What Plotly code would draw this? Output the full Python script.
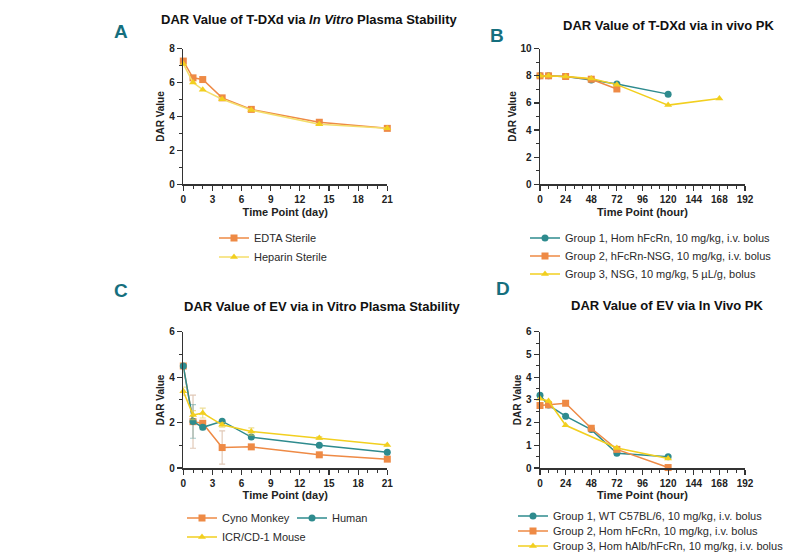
import plotly.graph_objects as go

# ---------------- data ----------------
# Panel A: T-DXd in vitro plasma stability
a_days = [0, 1, 2, 4, 7, 14, 21]
a_edta = [7.27, 6.28, 6.18, 5.10, 4.42, 3.66, 3.30]
a_heparin = [7.10, 6.00, 5.58, 5.02, 4.38, 3.55, 3.30]

# Panel B: T-DXd in vivo PK
b_g1_hours = [0, 8, 24, 48, 72, 120]
b_g1 = [8.0, 8.0, 7.95, 7.70, 7.40, 6.65]
b_g2_hours = [0, 8, 24, 48, 72]
b_g2 = [8.0, 8.0, 7.95, 7.75, 7.03]
b_g3_hours = [0, 8, 24, 48, 72, 120, 168]
b_g3 = [8.0, 8.0, 7.95, 7.80, 7.35, 5.84, 6.32]

# Panel C: EV in vitro plasma stability
c_days = [0, 1, 2, 4, 7, 14, 21]
c_cyno = [4.49, 2.04, 1.97, 0.90, 0.93, 0.58, 0.39]
c_cyno_err = [0.05, 1.17, 0.08, 0.73, 0.08, 0.05, 0.04]
c_human = [4.49, 2.05, 1.79, 2.06, 1.36, 1.00, 0.69]
c_human_err = [0.05, 0.74, 0.10, 0.05, 0.06, 0.04, 0.04]
c_mouse = [3.38, 2.33, 2.42, 1.90, 1.61, 1.32, 1.01]
c_mouse_err = [0.18, 0.20, 0.22, 0.10, 0.16, 0.06, 0.04]

# Panel D: EV in vivo PK
d_g1_hours = [0, 8, 24, 48, 72, 120]
d_g1 = [3.20, 2.77, 2.28, 1.69, 0.65, 0.50]
d_g2_hours = [0, 8, 24, 48, 72, 120]
d_g2 = [2.75, 2.78, 2.85, 1.75, 0.82, 0.02]
d_g3_hours = [0, 8, 24, 72, 120]
d_g3 = [3.05, 2.95, 1.88, 0.88, 0.42]

# ---------------- styles ----------------
ORANGE = "#EE8A45"
TEAL = "#2E8B8E"
YELLOW = "#F2CF1F"
LABEL_TEAL = "#156F7E"
AXIS = "#333333"
FONT = "Liberation Sans, Arial, sans-serif"

W, H = 798, 553

fig = go.Figure()

def px_x(v):
    return v / W

def px_y(v):
    return 1 - v / H

legend_count = [0]
legend_layouts = {}

ERR_COL = {ORANGE: "rgba(205,165,135,0.6)", TEAL: "rgba(60,140,140,0.45)",
           YELLOW: "rgba(225,200,80,0.6)"}

def add_series(x, y, name, color, symbol, size, xa, ya, leg_xy, err=None,
               line_color=None):
    legend_count[0] += 1
    n = legend_count[0]
    key = "legend" if n == 1 else f"legend{n}"
    tr = go.Scatter(
        x=x, y=y, name=name, mode="lines+markers",
        xaxis=xa, yaxis=ya, cliponaxis=False,
        line=dict(color=line_color or color, width=1.5),
        marker=dict(symbol=symbol, size=size, color=color,
                    line=dict(width=0)),
        legend=key, showlegend=True,
    )
    if err is not None:
        tr.error_y = dict(type="data", array=err, visible=True,
                          color=ERR_COL[color], thickness=1.2, width=3)
    fig.add_trace(tr)
    lx, ly = leg_xy
    legend_layouts[key] = dict(
        x=px_x(lx), y=px_y(ly), xanchor="left", yanchor="middle",
        bgcolor="rgba(0,0,0,0)", borderwidth=0,
        font=dict(family=FONT, size=11, color="#2a2a2a"),
        itemwidth=30, tracegroupgap=0,
    )

# legend positions: (left edge px, center y px). Text starts ~40 px after left edge.
TXT_OFF = 40
# Panel A
add_series(a_days, a_edta, "EDTA Sterile", ORANGE, "square", 7, "x", "y",
           (254 - TXT_OFF, 238))
add_series(a_days, a_heparin, "Heparin Sterile", YELLOW, "triangle-up", 7, "x", "y",
           (254 - TXT_OFF, 257), line_color="#F4DE6A")
# Panel B
add_series(b_g1_hours, b_g1, "Group 1, Hom hFcRn, 10 mg/kg, i.v. bolus", TEAL,
           "circle", 7, "x2", "y2", (565 - TXT_OFF, 238))
add_series(b_g2_hours, b_g2, "Group 2, hFcRn-NSG, 10 mg/kg, i.v. bolus", ORANGE,
           "square", 7, "x2", "y2", (565 - TXT_OFF, 256))
add_series(b_g3_hours, b_g3, "Group 3, NSG, 10 mg/kg, 5 µL/g, bolus", YELLOW,
           "triangle-up", 7, "x2", "y2", (565 - TXT_OFF, 274))
# Panel C
add_series(c_days, c_cyno, "Cyno Monkey", ORANGE, "square", 7, "x3", "y3",
           (222 - TXT_OFF, 518), err=c_cyno_err)
add_series(c_days, c_human, "Human", TEAL, "circle", 7, "x3", "y3",
           (332 - TXT_OFF, 518), err=c_human_err)
add_series(c_days, c_mouse, "ICR/CD-1 Mouse", YELLOW, "triangle-up", 7, "x3", "y3",
           (222 - TXT_OFF, 537), err=c_mouse_err)
# Panel D
add_series(d_g1_hours, d_g1, "Group 1, WT C57BL/6, 10 mg/kg, i.v. bolus", TEAL,
           "circle", 7, "x4", "y4", (553 - TXT_OFF, 516))
add_series(d_g2_hours, d_g2, "Group 2, Hom hFcRn, 10 mg/kg, i.v. bolus", ORANGE,
           "square", 7, "x4", "y4", (553 - TXT_OFF, 531))
add_series(d_g3_hours, d_g3, "Group 3, Hom hAlb/hFcRn, 10 mg/kg, i.v. bolus", YELLOW,
           "triangle-up", 7, "x4", "y4", (553 - TXT_OFF, 546))

tick_font = dict(family=FONT, size=10, color="#222222", weight="bold")
title_font = dict(family=FONT, size=11, color="#222222", weight="bold")

def axis_common():
    return dict(showgrid=False, zeroline=False, showline=True,
                linecolor=AXIS, linewidth=1.5, ticks="outside",
                ticklen=5, tickwidth=1.2, tickcolor=AXIS,
                tickfont=tick_font, title_font=title_font,
                fixedrange=True, automargin=False)

def xaxis(dom, rng, dtick, minor, title, anchor):
    d = axis_common()
    d.update(domain=[px_x(dom[0]), px_x(dom[1])], range=rng, dtick=dtick,
             tick0=0, anchor=anchor,
             minor=dict(dtick=minor, tick0=0, ticks="outside", ticklen=3,
                        tickwidth=1, tickcolor=AXIS),
             title=dict(text=title, standoff=4))
    return d

def yaxis(dom, rng, dtick, minor, anchor):
    d = axis_common()
    d.update(domain=[px_y(dom[1]), px_y(dom[0])], range=rng, dtick=dtick,
             tick0=0, anchor=anchor,
             minor=dict(dtick=minor, tick0=0, ticks="outside", ticklen=3,
                        tickwidth=1, tickcolor=AXIS),
             title=dict(text="DAR Value", standoff=2,
                        font=dict(family=FONT, size=10, color="#222222",
                                  weight="bold")))
    return d

AX_L, AX_R = 183.3, 387.3
BX_L, BX_R = 540, 745
TOP_Y0, TOP_Y1 = 48.7, 184.3
BOT_Y0, BOT_Y1 = 331.7, 468.0

fig.update_layout(
    width=W, height=H,
    margin=dict(l=0, r=0, t=0, b=0, autoexpand=False),
    paper_bgcolor="white", plot_bgcolor="white",
    font=dict(family=FONT),
    xaxis=xaxis((AX_L, AX_R), [0, 21], 3, 1, "Time Point (day)", "y"),
    yaxis=yaxis((TOP_Y0, TOP_Y1), [0, 8], 2, 1, "x"),
    xaxis2=xaxis((BX_L, BX_R), [0, 192], 24, 8, "Time Point (hour)", "y2"),
    yaxis2=yaxis((TOP_Y0, TOP_Y1), [0, 10], 2, 1, "x2"),
    xaxis3=xaxis((AX_L, AX_R), [0, 21], 3, 1, "Time Point (day)", "y3"),
    yaxis3=yaxis((BOT_Y0, BOT_Y1), [0, 6], 2, 1, "x3"),
    xaxis4=xaxis((BX_L, BX_R), [0, 192], 24, 8, "Time Point (hour)", "y4"),
    yaxis4=yaxis((BOT_Y0, BOT_Y1), [0, 6], 1, 0.5, "x4"),
    **legend_layouts,
)

titles = [
    ("DAR Value of T-DXd via <i>In Vitro</i> Plasma Stability", 309, 19),
    ("DAR Value of T-DXd via in vivo PK", 669, 26),
    ("DAR Value of EV via in Vitro Plasma Stability", 322, 306),
    ("DAR Value of EV via In Vivo PK", 667, 305),
]
for text, cx, cy in titles:
    fig.add_annotation(text=text, x=px_x(cx), y=px_y(cy), xref="paper",
                       yref="paper", showarrow=False, xanchor="center",
                       yanchor="middle",
                       font=dict(family=FONT, size=13, color="#111111",
                                 weight="bold"))

labels = [("A", 121, 32), ("B", 497, 35), ("C", 121, 290), ("D", 503, 288)]
for text, cx, cy in labels:
    fig.add_annotation(text=text, x=px_x(cx), y=px_y(cy), xref="paper",
                       yref="paper", showarrow=False, xanchor="center",
                       yanchor="middle",
                       font=dict(family=FONT, size=19, color=LABEL_TEAL,
                                 weight="bold"))

fig.write_html("out.html",
               config={"displayModeBar": False, "staticPlot": True},
               post_script="document.body.style.margin='0';"
                           "document.body.style.overflow='hidden';")
